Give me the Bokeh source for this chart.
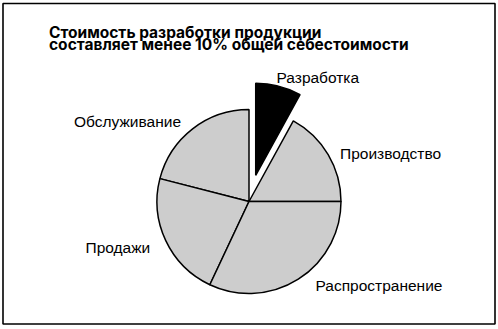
import math
from bokeh.plotting import figure
from bokeh.models import Range1d, ColumnDataSource
from bokeh.core.properties import value
from bokeh.embed import file_html
from bokeh.resources import INLINE

# Cost structure (percent of total cost), counter-clockwise from 3 o'clock
categories = ["Производство", "Разработка", "Обслуживание", "Продажи", "Распространение"]
shares = [17, 8, 21, 22, 32]
highlight = "Разработка"

title_lines = ["Стоимость разработки продукции",
               "составляет менее 10% общей себестоимости"]

W, H = 498, 329
p = figure(width=W, height=H, output_backend="svg", toolbar_location=None,
           x_range=Range1d(0, W), y_range=Range1d(0, H), min_border=0)
p.axis.visible = False
p.grid.visible = False
p.outline_line_color = None
p.background_fill_color = "white"

# outer frame
p.quad(left=2.5, right=494.5, bottom=H - 323.5, top=H - 3, fill_color=None,
       line_color="black", line_width=1.6)

# pie geometry (screen pixels, y up)
cx, cy, r = 248.5, H - 201.0, 92.0
explode = 27.0
total = float(sum(shares))
starts, ends, xs, ys, fills = [], [], [], [], []
a = 0.0
for cat, s in zip(categories, shares):
    a0 = a
    a1 = a + 2 * math.pi * s / total
    a = a1
    mid = (a0 + a1) / 2
    off = explode if cat == highlight else 0.0
    starts.append(a0)
    ends.append(a1)
    xs.append(cx + off * math.cos(mid))
    ys.append(cy + off * math.sin(mid))
    fills.append("black" if cat == highlight else "#cdcdcd")

src = ColumnDataSource(dict(x=xs, y=ys, start=starts, end=ends, fill=fills, cat=categories))
p.wedge(x="x", y="y", radius=r, start_angle="start", end_angle="end",
        fill_color="fill", line_color="black", line_width=1.5, source=src)

# text is placed by its baseline; the renderer sits it a few pixels low
lift = 5.5

# slice labels (left edge, baseline)
label_x = [339.5, 276.0, 73.5, 85.0, 315.0]
label_y = [158.5, 82.7, 126.7, 252.3, 290.7]
p.text(x=label_x, y=[H - v + lift for v in label_y], text=categories,
       text_font=value("Liberation Sans"), text_font_size="15.5px",
       text_baseline="alphabetic", text_align="left", text_color="black")

# two-line bold heading
p.text(x=[48.5, 48.5], y=[H - 37.5 + lift, H - 49.8 + lift], text=title_lines,
       text_font=value("Inter"), text_font_size="15.5px",
       text_font_style="bold", text_baseline="alphabetic", text_align="left",
       text_color="black")

open("out.html", "w").write(file_html(p, INLINE))
